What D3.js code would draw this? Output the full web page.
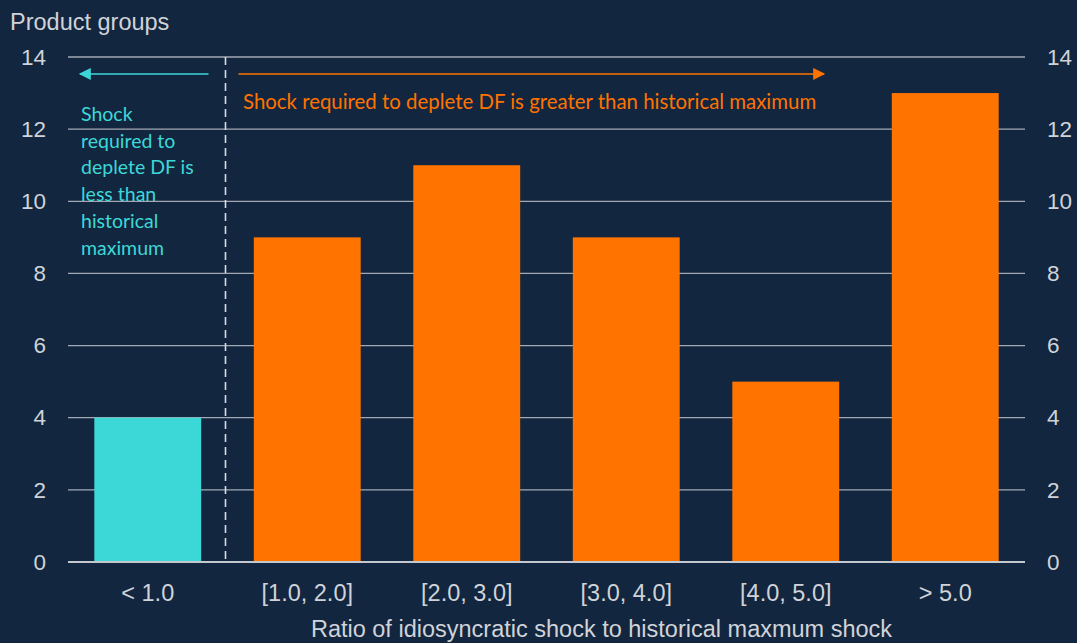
<!DOCTYPE html>
<html>
<head>
<meta charset="utf-8">
<script src="https://cdn.jsdelivr.net/npm/d3@7"></script>
<style>
  html, body { margin: 0; padding: 0; background: #13263f; }
  svg { display: block; }
</style>
</head>
<body>
<svg id="chart" width="1077" height="643"></svg>
<script>
// Product groups by ratio of idiosyncratic shock to historical maximum shock
const categories = ["< 1.0", "[1.0, 2.0]", "[2.0, 3.0]", "[3.0, 4.0]", "[4.0, 5.0]", "> 5.0"];
const counts = [4, 9, 11, 9, 5, 13];
const belowMax = [true, false, false, false, false, false];
const yTicks = [0, 2, 4, 6, 8, 10, 12, 14];
const leftNote = ["Shock", "required to", "deplete DF is", "less than", "historical", "maximum"];
const rightNote = "Shock required to deplete DF is greater than historical maximum";

const W = 1077, H = 643;
const margin = { left: 68, right: 52, top: 57, bottom: 81 };
const bg = "#13263f", cyan = "#3cd8d8", orange = "#ff7300";
const grid = "#a3a9b3", tickText = "#d0d3d8";
const axisFont = "'Liberation Sans', Arial, sans-serif";
const noteFont = "Lato, 'Open Sans', sans-serif";

const svg = d3.select("#chart");
svg.append("rect").attr("width", W).attr("height", H).attr("fill", bg);

const x = d3.scaleBand()
  .domain(categories)
  .range([margin.left, W - margin.right])
  .paddingInner(0.33)
  .paddingOuter(0.165);

const y = d3.scaleLinear()
  .domain([0, 14])
  .range([H - margin.bottom, margin.top]);

// Horizontal gridlines
svg.append("g").selectAll("line")
  .data(yTicks.filter(d => d > 0))
  .join("line")
  .attr("x1", margin.left).attr("x2", W - margin.right)
  .attr("y1", d => y(d)).attr("y2", d => y(d))
  .attr("stroke", grid).attr("stroke-width", 1.3);

// Left and right value axes (labels only)
const leftAxis = d3.axisLeft(y).tickValues(yTicks).tickSize(0).tickPadding(22);
const rightAxis = d3.axisRight(y).tickValues(yTicks).tickSize(0).tickPadding(22);
[[leftAxis, margin.left], [rightAxis, W - margin.right]].forEach(([ax, pos]) => {
  const g = svg.append("g").attr("transform", `translate(${pos},0)`).call(ax);
  g.select(".domain").remove();
  g.selectAll("text")
    .attr("fill", tickText)
    .attr("font-family", axisFont)
    .attr("font-size", 22.5);
});

// Bars
svg.append("g").selectAll("rect")
  .data(categories)
  .join("rect")
  .attr("x", d => x(d))
  .attr("width", x.bandwidth())
  .attr("y", (d, i) => y(counts[i]))
  .attr("height", (d, i) => y(0) - y(counts[i]))
  .attr("fill", (d, i) => belowMax[i] ? cyan : orange);

// Baseline
svg.append("line")
  .attr("x1", margin.left).attr("x2", W - margin.right)
  .attr("y1", y(0)).attr("y2", y(0))
  .attr("stroke", "#c4c8ce").attr("stroke-width", 2);

// Category axis
const xAxis = d3.axisBottom(x).tickSize(0).tickPadding(22);
const gx = svg.append("g").attr("transform", `translate(0,${y(0)})`).call(xAxis);
gx.select(".domain").remove();
gx.selectAll("text")
  .attr("fill", tickText)
  .attr("font-family", axisFont)
  .attr("font-size", 23.5);

// Axis titles
svg.append("text")
  .attr("x", 10).attr("y", 30)
  .attr("fill", tickText)
  .attr("font-family", axisFont)
  .attr("font-size", 23.5)
  .text("Product groups");

svg.append("text")
  .attr("x", (margin.left + W - margin.right) / 2 + 55).attr("y", 637)
  .attr("text-anchor", "middle")
  .attr("fill", tickText)
  .attr("font-family", axisFont)
  .attr("font-size", 23.5)
  .text("Ratio of idiosyncratic shock to historical maxmum shock");

// Divider between the two regimes
const divX = (x(categories[0]) + x.bandwidth() + x(categories[1])) / 2 - 2;
svg.append("line")
  .attr("x1", divX).attr("x2", divX)
  .attr("y1", y(14)).attr("y2", y(0))
  .attr("stroke", "#d8dbe0").attr("stroke-width", 1.6)
  .attr("stroke-dasharray", "8,5");

// Arrow markers
const defs = svg.append("defs");
[["arrowCyan", cyan], ["arrowOrange", orange]].forEach(([id, c]) => {
  defs.append("marker")
    .attr("id", id)
    .attr("viewBox", "0 0 10 10")
    .attr("refX", 9).attr("refY", 5)
    .attr("markerWidth", 12).attr("markerHeight", 12)
    .attr("markerUnits", "userSpaceOnUse")
    .attr("orient", "auto")
    .append("path").attr("d", "M0,0 L10,5 L0,10 Z").attr("fill", c);
});

const arrowY = y(13.53);
svg.append("line")
  .attr("x1", divX - 17).attr("x2", 80)
  .attr("y1", arrowY).attr("y2", arrowY)
  .attr("stroke", cyan).attr("stroke-width", 1.5)
  .attr("marker-end", "url(#arrowCyan)");

svg.append("line")
  .attr("x1", divX + 13).attr("x2", 824)
  .attr("y1", arrowY).attr("y2", arrowY)
  .attr("stroke", orange).attr("stroke-width", 1.5)
  .attr("marker-end", "url(#arrowOrange)");

// Regime notes
svg.append("text")
  .attr("x", 243).attr("y", 109)
  .attr("fill", orange)
  .attr("font-family", noteFont)
  .attr("font-size", 20.4)
  .text(rightNote);

svg.append("text")
  .attr("fill", cyan)
  .attr("font-family", noteFont)
  .attr("font-size", 19.5)
  .selectAll("tspan")
  .data(leftNote)
  .join("tspan")
  .attr("x", 81)
  .attr("y", (d, i) => 121 + i * 26.7)
  .text(d => d);
</script>
</body>
</html>
